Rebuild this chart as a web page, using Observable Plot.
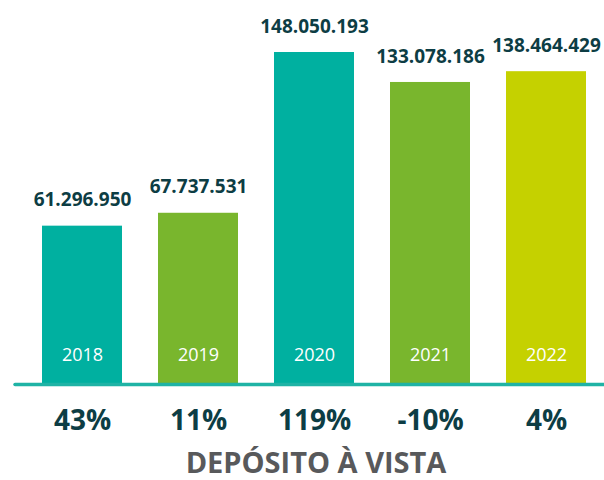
<!DOCTYPE html>
<html>
<head>
<meta charset="utf-8">
<script src="https://cdn.jsdelivr.net/npm/d3@7"></script>
<script src="https://cdn.jsdelivr.net/npm/@observablehq/plot@0.6"></script>
<style>
  html, body { margin: 0; padding: 0; background: #ffffff; }
  #chart svg { display: block; font-family: "Open Sans", sans-serif; }
</style>
</head>
<body>
<div id="chart"></div>
<script>
const years = ["2018", "2019", "2020", "2021", "2022"];
const values = [61296950, 67737531, 148050193, 133078186, 138464429];
const growth = ["43%", "11%", "119%", "-10%", "4%"];
const title = "DEPÓSITO À VISTA";

const barColors = ["#00b0a0", "#79b62d", "#00b0a0", "#79b62d", "#c5d100"];
const yMin = -17.3e6;

const fmt = v => String(v).replace(/\B(?=(\d{3})+(?!\d))/g, ".");
const data = years.map((y, i) => ({year: y, value: values[i], growth: growth[i], label: fmt(values[i])}));

const chart = Plot.plot({
  width: 604,
  height: 480,
  marginLeft: 41,
  marginRight: 18,
  marginTop: 52,
  marginBottom: 97,
  x: {type: "band", domain: years, paddingInner: 0.312, paddingOuter: 0, axis: null},
  y: {domain: [yMin, 148050193], axis: null},
  color: {domain: years, range: barColors},
  marks: [
    Plot.barY(data, {x: "year", y1: yMin, y2: "value", fill: "year"}),
    Plot.ruleY([yMin], {stroke: "#1fb3a5", strokeWidth: 3.5, strokeLinecap: "round", insetLeft: -26, insetRight: -20, dy: 1}),
    Plot.text(data, {x: "year", y: yMin, text: "year", dy: -28, fill: "#ffffff", fontSize: 18, fontWeight: 400}),
    Plot.text(data, {x: "year", y: "value", text: "label", dy: -26, fill: "#0d3d44", fontSize: 19, fontWeight: 700, style: "letter-spacing:-0.4px"}),
    Plot.text(data, {x: "year", y: yMin, text: "growth", dy: 38, fill: "#0d3d44", fontSize: 28, fontWeight: 700}),
    Plot.text([title], {frameAnchor: "bottom", lineAnchor: "middle", dy: 80.5, dx: 2, fill: "#58595b", fontSize: 29, fontWeight: 700})
  ]
});
document.getElementById("chart").appendChild(chart);
</script>
</body>
</html>
